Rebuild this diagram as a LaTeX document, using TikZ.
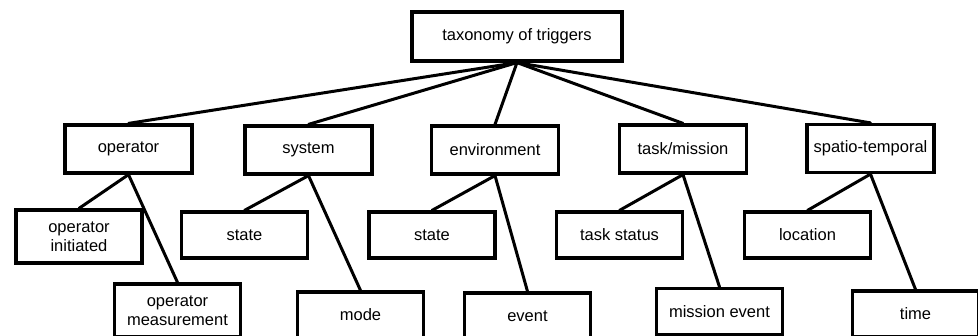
\documentclass[tikz,border=0pt]{standalone}
\usepackage{fontspec}
\setmainfont{Liberation Sans}
\begin{document}
\begin{tikzpicture}[x=1pt,y=-1pt,
  box/.style={draw=black, line width=3.2pt, fill=white, inner sep=0pt,
    align=center, font=\fontsize{16.5}{19.5}\selectfont},
  catbox/.style={box, minimum width=127pt, minimum height=48pt},
  leafbox/.style={box, minimum width=126pt, minimum height=46pt},
  link/.style={line width=3pt, line cap=round}]
\useasboundingbox (0,0) rectangle (978,336);
\clip (0,0) rectangle (978,336);

% root
\node[box, minimum width=210pt, minimum height=49pt] (root) at (517,36.5) {taxonomy of triggers};

% categories
\node[catbox] (op)  at (128.5,149) {operator};
\node[catbox] (sys) at (308.5,150) {system};
\node[catbox] (env) at (495,150)   {environment};
\node[catbox] (tm)  at (683,149)   {task/mission};
\node[catbox] (st)  at (870.5,148.5) {spatio-temporal};

% first row of leaves
\node[leafbox, minimum height=53pt] (opinit) at (79,236.5) {operator\\initiated};
\node[leafbox] (sysstate) at (244.5,235) {state};
\node[leafbox] (envstate) at (432,235)   {state};
\node[leafbox] (tstat)    at (619.5,235) {task status};
\node[leafbox] (loc)      at (807.5,235) {location};

% second row of leaves
\node[leafbox, minimum height=53pt] (opmeas) at (177.5,310.5) {operator\\measurement};
\node[leafbox] (mode)  at (360.5,315) {mode};
\node[leafbox] (event) at (527.5,316) {event};
\node[leafbox] (mev)   at (719.5,311.5) {mission event};
\node[leafbox] (time)  at (915.5,314) {time};

% connectors
\foreach \c in {op,sys,env,tm,st}
  \draw[link] (root.south) -- (\c.north);
\draw[link] (op.south)  -- (opinit.north);
\draw[link] (op.south)  -- (opmeas.north);
\draw[link] (sys.south) -- (sysstate.north);
\draw[link] (sys.south) -- (mode.north);
\draw[link] (env.south) -- (envstate.north);
\draw[link] (env.south) -- (event.north);
\draw[link] (tm.south)  -- (tstat.north);
\draw[link] (tm.south)  -- (mev.north);
\draw[link] (st.south)  -- (loc.north);
\draw[link] (st.south)  -- (time.north);
\end{tikzpicture}
\end{document}
